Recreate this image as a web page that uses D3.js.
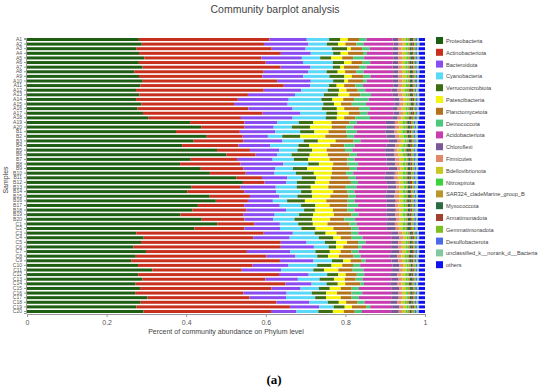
<!DOCTYPE html>
<html>
<head>
<meta charset="utf-8">
<script src="https://cdn.jsdelivr.net/npm/d3@7"></script>
<style>
  body { margin: 0; background: #fff; }
  text { font-family: "Liberation Sans", Arial, sans-serif; }
</style>
</head>
<body>
<script>
// sample names, top to bottom
var samples = [];
["A", "B", "C"].forEach(function (g) {
  for (var k = 1; k <= 20; k++) samples.push(g + k);
});

var phyla = ["Proteobacteria", "Actinobacteriota", "Bacteroidota", "Cyanobacteria",
  "Verrucomicrobiota", "Patescibacteria", "Planctomycetota", "Deinococcota",
  "Acidobacteriota", "Chloroflexi", "Firmicutes", "Bdellovibrionota", "Nitrospirota",
  "SAR324_cladeMarine_group_B", "Myxococcota", "Armatimonadota", "Gemmatimonadota",
  "Desulfobacterota", "unclassified_k__norank_d__Bacteria", "others"];

var colors = ["#1d5e12", "#c8301e", "#8a4cf0", "#5ad8f8", "#3e6e14", "#f4f40c",
  "#b4721c", "#4cc87c", "#c83cb0", "#7a5898", "#e08868", "#c8c820", "#3cd23c",
  "#b8962c", "#2c6a40", "#a24030", "#7cc020", "#4a6ae8", "#84c8a0", "#1010f0"];

// percent abundance per phylum, one value per sample (A1 ... C20)
var proteobacteria = [30,31,29,30,32,30,31,29,30,31,30,29,31,30,32,30,31,33,
  45,48,42,50,47,44,52,55,46,43,49,51,58,60,47,45,50,53,48,46,44,49,52,47,
  30,32,31,29,33,30,28,31,35,30,32,29,31,30,33,31,30,32];
var actinobacteriota = [35,33,36,38,32,34,37,35,33,36,38,34,30,28,26,30,32,25,
  15,12,18,10,14,16,9,8,13,17,12,10,7,6,14,16,11,9,13,15,18,12,10,14,
  35,30,38,40,28,36,40,32,25,38,34,40,36,30,28,37,42,35];
var bacteroidota = [10,12,9,8,11,10,8,12,11,9,7,10,13,14,15,12,10,14,
  9,8,10,7,11,9,8,6,10,12,9,8,7,6,10,9,8,7,10,11,9,8,7,10,
  8,10,7,9,12,8,9,10,11,8,9,7,8,12,10,9,8,7];
var cyanobacteria = [6,5,7,6,5,8,6,5,7,6,5,7,8,9,10,8,7,9,
  6,5,7,4,6,8,5,4,6,7,5,6,4,3,6,7,5,4,6,5,7,6,5,6,
  6,8,5,4,7,6,5,8,9,5,6,4,5,7,8,5,4,6];
var verrucomicrobiota = [3,3,4,2,3,3,2,3,4,3,2,3,4,3,3,4,3,3,
  4,5,4,5,4,3,4,5,4,3,4,5,4,5,4,3,4,5,4,3,4,5,4,4,
  3,4,3,2,4,3,3,4,3,3,4,3,3,4,3,3,3,4];
var patescibacteria = [2,2,1,2,3,2,1,2,2,1,2,2,3,3,2,2,3,2,
  5,6,4,7,5,6,4,5,6,4,7,5,4,4,5,6,5,6,4,5,6,5,4,5,
  3,2,3,2,3,3,2,3,4,2,3,2,3,3,4,2,2,3];
var planctomycetota = [3,3,3,4,3,3,4,3,3,4,3,3,3,3,3,4,3,3,
  5,4,5,6,5,4,5,6,5,4,5,4,5,6,5,4,5,6,5,4,5,4,6,5,
  4,3,3,4,3,4,3,3,4,3,3,4,3,4,3,3,4,3];
var deinococcota = [2,2,2,1,3,2,2,2,2,1,2,2,3,4,4,3,2,4,
  2,2,3,2,2,3,2,2,2,3,2,2,2,2,3,2,2,2,3,2,2,3,2,2,
  2,3,2,1,2,2,1,2,3,2,2,1,2,3,2,2,1,2];
var acidobacteriota = [7,8,6,7,8,6,7,8,6,7,8,7,6,7,8,6,7,6,
  8,9,8,9,8,9,9,8,9,8,9,9,8,8,9,9,8,9,8,9,8,9,8,8,
  9,8,7,8,9,8,7,9,8,7,8,7,9,8,9,7,6,8];
var chloroflexi = [1.5,1.4,1.6,1.5,1.3,1.5,1.6,1.4,1.5,1.5,1.4,1.6,1.5,1.5,1.4,1.5,1.6,1.5,
  2.5,2.4,2.6,2.5,2.3,2.5,2.6,2.4,2.5,2.5,2.4,2.6,2.5,2.5,2.4,2.5,2.6,2.5,2.4,2.5,2.6,2.5,2.4,2.5,
  2,2.1,1.9,2,2.2,2,1.8,2,2.1,2,1.9,2,2,2.1,1.9,2,2,2.1];
var firmicutes = [1,1.1,0.9,1,1.2,1,0.9,1,1.1,1,0.9,1,1.2,1,1,1.1,0.9,1,
  1,1.2,0.9,1,1.1,1,0.8,1,1.2,1,0.9,1,1.1,1,0.9,1,1.2,1,1,0.9,1.1,1,1,0.9,
  1,1.1,1,0.9,1,1.2,1,1,0.9,1.1,1,1,0.9,1,1.1,1,1,0.9];
var bdellovibrionota = [1,0.9,1,1.1,1,0.9,1,1,1.1,0.9,1,1,0.9,1.1,1,1,0.9,1,
  1.2,1.1,1.3,1.2,1,1.2,1.1,1.3,1.2,1.1,1,1.2,1.3,1.1,1.2,1,1.2,1.1,1.3,1.2,1,1.1,1.2,1.1,
  1,0.9,1,1.1,1,1,0.9,1,1.1,1,1,0.9,1,1.1,1,1,0.9,1];
var nitrospirota = [0.5,0.6,0.5,0.4,0.5,0.6,0.5,0.5,0.4,0.5,0.6,0.5,0.5,0.4,0.5,0.6,0.5,0.5,
  0.7,0.6,0.8,0.7,0.6,0.7,0.8,0.6,0.7,0.7,0.6,0.8,0.7,0.6,0.7,0.8,0.7,0.6,0.7,0.7,0.8,0.6,0.7,0.7,
  0.5,0.5,0.6,0.4,0.5,0.5,0.6,0.5,0.4,0.5,0.5,0.6,0.5,0.5,0.4,0.5,0.6,0.5];
var sar324 = [0.6,0.5,0.6,0.5,0.6,0.5,0.6,0.6,0.5,0.6,0.5,0.6,0.6,0.5,0.6,0.5,0.6,0.6,
  0.5,0.6,0.5,0.5,0.6,0.5,0.5,0.6,0.5,0.6,0.5,0.5,0.6,0.5,0.5,0.6,0.5,0.5,0.6,0.5,0.5,0.6,0.5,0.5,
  0.6,0.5,0.6,0.6,0.5,0.6,0.5,0.6,0.6,0.5,0.6,0.5,0.6,0.6,0.5,0.6,0.5,0.6];
var myxococcota = [0.6,0.6,0.5,0.6,0.7,0.6,0.5,0.6,0.6,0.7,0.6,0.5,0.6,0.6,0.7,0.6,0.5,0.6,
  0.7,0.8,0.7,0.6,0.7,0.8,0.7,0.7,0.6,0.8,0.7,0.7,0.6,0.7,0.8,0.7,0.6,0.7,0.7,0.8,0.7,0.6,0.7,0.8,
  0.6,0.6,0.5,0.6,0.6,0.7,0.6,0.5,0.6,0.6,0.7,0.6,0.5,0.6,0.6,0.7,0.6,0.5];
var armatimonadota = [0.4,0.5,0.4,0.4,0.3,0.4,0.5,0.4,0.4,0.3,0.4,0.5,0.4,0.4,0.3,0.4,0.5,0.4,
  0.5,0.4,0.5,0.5,0.4,0.5,0.6,0.5,0.4,0.5,0.5,0.4,0.5,0.6,0.5,0.4,0.5,0.5,0.4,0.5,0.6,0.5,0.4,0.5,
  0.4,0.4,0.3,0.4,0.5,0.4,0.4,0.3,0.4,0.5,0.4,0.4,0.3,0.4,0.5,0.4,0.4,0.3];
var gemmatimonadota = [0.5,0.5,0.6,0.5,0.4,0.5,0.5,0.6,0.5,0.4,0.5,0.5,0.6,0.5,0.4,0.5,0.5,0.6,
  0.6,0.7,0.6,0.6,0.5,0.6,0.7,0.6,0.6,0.5,0.6,0.7,0.6,0.6,0.5,0.6,0.7,0.6,0.6,0.5,0.6,0.7,0.6,0.6,
  0.5,0.5,0.6,0.5,0.4,0.5,0.5,0.6,0.5,0.4,0.5,0.5,0.6,0.5,0.4,0.5,0.5,0.6];
var desulfobacterota = [0.5,0.4,0.5,0.5,0.6,0.5,0.4,0.5,0.5,0.6,0.5,0.4,0.5,0.5,0.6,0.5,0.4,0.5,
  0.5,0.5,0.6,0.5,0.4,0.5,0.5,0.6,0.5,0.4,0.5,0.5,0.6,0.5,0.4,0.5,0.5,0.6,0.5,0.4,0.5,0.5,0.6,0.5,
  0.5,0.4,0.5,0.5,0.6,0.5,0.4,0.5,0.5,0.6,0.5,0.4,0.5,0.5,0.6,0.5,0.4,0.5];
var unclassified = [0.5,0.5,0.4,0.5,0.5,0.6,0.5,0.5,0.4,0.5,0.5,0.6,0.5,0.5,0.4,0.5,0.5,0.6,
  0.6,0.5,0.6,0.6,0.7,0.6,0.5,0.6,0.6,0.7,0.6,0.5,0.6,0.6,0.7,0.6,0.5,0.6,0.6,0.7,0.6,0.5,0.6,0.6,
  0.5,0.5,0.4,0.5,0.5,0.6,0.5,0.5,0.4,0.5,0.5,0.6,0.5,0.5,0.4,0.5,0.5,0.6];
var others = [1.6,1.5,1.7,1.6,1.5,1.6,1.7,1.5,1.6,1.6,1.5,1.7,1.6,1.5,1.6,1.7,1.5,1.6,
  2,1.9,2.1,2,1.9,2,2.1,1.9,2,2,1.9,2.1,2,1.9,2,2.1,1.9,2,2,1.9,2.1,2,1.9,2,
  1.7,1.6,1.8,1.7,1.6,1.7,1.8,1.6,1.7,1.7,1.6,1.8,1.7,1.6,1.7,1.8,1.6,1.7];

var xTicks = [0, 0.2, 0.4, 0.6, 0.8, 1];

var series = [proteobacteria, actinobacteriota, bacteroidota, cyanobacteria, verrucomicrobiota,
  patescibacteria, planctomycetota, deinococcota, acidobacteriota, chloroflexi, firmicutes,
  bdellovibrionota, nitrospirota, sar324, myxococcota, armatimonadota, gemmatimonadota,
  desulfobacterota, unclassified, others];

// table for d3.stack
var table = samples.map(function (s, i) {
  var row = {sample: s};
  phyla.forEach(function (p, j) { row[p] = series[j][i]; });
  return row;
});

var W = 550, H = 392;
var svg = d3.select("body").append("svg").attr("width", W).attr("height", H);

var x = d3.scaleLinear().domain([0, 1]).range([27, 425]);
var y = d3.scaleBand().domain(samples).range([38, 313]).paddingInner(0.35);
var color = d3.scaleOrdinal().domain(phyla).range(colors);

var stacked = d3.stack().keys(phyla).offset(d3.stackOffsetExpand)(table);

svg.append("g").selectAll("g")
  .data(stacked)
  .enter().append("g")
  .attr("fill", function (d) { return color(d.key); })
  .selectAll("rect")
  .data(function (d) { return d; })
  .enter().append("rect")
  .attr("x", function (d) { return x(d[0]); })
  .attr("y", function (d) { return y(d.data.sample); })
  .attr("width", function (d) { return Math.max(0, x(d[1]) - x(d[0])); })
  .attr("height", y.bandwidth());

// axes
var xAxis = svg.append("g")
  .attr("transform", "translate(0,314)")
  .call(d3.axisBottom(x).tickValues(xTicks).tickFormat(d3.format("")).tickSize(3));
xAxis.select(".domain").attr("stroke", "#999");
xAxis.selectAll(".tick line").attr("stroke", "#999");
xAxis.selectAll("text").attr("fill", "#555").style("font-size", "7px");

var yAxis = svg.append("g")
  .attr("transform", "translate(26,0)")
  .call(d3.axisLeft(y).tickSize(2).tickPadding(2));
yAxis.select(".domain").attr("stroke", "#999");
yAxis.selectAll(".tick line").attr("stroke", "#999");
yAxis.selectAll("text").attr("fill", "#555").style("font-size", "5px");

// titles
svg.append("text")
  .attr("x", 275).attr("y", 13)
  .attr("text-anchor", "middle")
  .style("font-size", "10.5px").attr("fill", "#444")
  .text("Community barplot analysis");

svg.append("text")
  .attr("x", 226).attr("y", 334)
  .attr("text-anchor", "middle")
  .style("font-size", "7px").attr("fill", "#444")
  .text("Percent of community abundance on Phylum level");

svg.append("text")
  .attr("transform", "translate(8,180) rotate(-90)")
  .attr("text-anchor", "middle")
  .style("font-size", "7px").attr("fill", "#444")
  .text("Samples");

svg.append("text")
  .attr("x", 274).attr("y", 384)
  .attr("text-anchor", "middle")
  .style("font-family", "Liberation Serif, serif")
  .style("font-size", "13px").style("font-weight", "bold")
  .text("(a)");

// legend
var legend = svg.append("g").selectAll("g")
  .data(phyla)
  .enter().append("g")
  .attr("transform", function (d, i) { return "translate(436," + (37 + i * 11.8) + ")"; });
legend.append("rect")
  .attr("width", 7).attr("height", 7)
  .attr("fill", function (d) { return color(d); });
legend.append("text")
  .attr("x", 10).attr("y", 6)
  .style("font-size", "5.6px").attr("fill", "#444")
  .text(function (d) { return d; });
</script>
</body>
</html>
